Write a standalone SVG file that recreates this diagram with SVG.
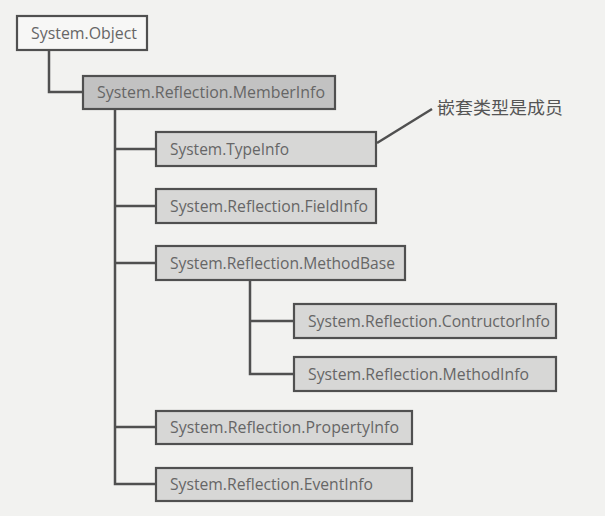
<svg xmlns="http://www.w3.org/2000/svg" width="605" height="516" viewBox="0 0 605 516">
<style>
.box{stroke:#505050;stroke-width:2.2}
.root{fill:#f7f7f6}
.main{fill:#c2c2c2}
.sub{fill:#d7d7d6}
.lbl{font-family:"Open Sans","Noto Sans",sans-serif;font-size:15.5px;fill:#666}
.cjk{font-family:"Noto Sans CJK SC",sans-serif;font-size:17px;fill:#555}
.conn{fill:none;stroke:#505050;stroke-width:2.5}
</style>
<rect width="605" height="516" fill="#f2f2f0"/>
<g id="connectors">
<path class="conn" d="M49,50 V92 H83"/>
<path class="conn" d="M115,109 V484 H156 M115,149 H156 M115,206 H156 M115,263 H156 M115,427 H156"/>
<path class="conn" d="M250,280 V374 H294 M250,321 H294"/>
<path class="conn" d="M377,143 L432,109" stroke-width="2"/>
</g>
<g id="object"><rect class="box root" x="17" y="16" width="130" height="34"/><text class="lbl" x="31" y="38.5" textLength="106" lengthAdjust="spacingAndGlyphs">System.Object</text></g>
<g id="memberinfo"><rect class="box main" x="83" y="76" width="252" height="33"/><text class="lbl" x="97" y="98" textLength="228" lengthAdjust="spacingAndGlyphs">System.Reflection.MemberInfo</text></g>
<g id="typeinfo"><rect class="box sub" x="156" y="132" width="220" height="34"/><text class="lbl" x="170" y="154.5" textLength="119" lengthAdjust="spacingAndGlyphs">System.TypeInfo</text></g>
<g id="fieldinfo"><rect class="box sub" x="156" y="189" width="220" height="34"/><text class="lbl" x="170" y="211.5" textLength="198" lengthAdjust="spacingAndGlyphs">System.Reflection.FieldInfo</text></g>
<g id="methodbase"><rect class="box sub" x="156" y="246" width="249" height="34"/><text class="lbl" x="170" y="268.5" textLength="225" lengthAdjust="spacingAndGlyphs">System.Reflection.MethodBase</text></g>
<g id="constructorinfo"><rect class="box sub" x="294" y="304" width="262" height="34"/><text class="lbl" x="308" y="326.5" textLength="242" lengthAdjust="spacingAndGlyphs">System.Reflection.ContructorInfo</text></g>
<g id="methodinfo"><rect class="box sub" x="294" y="357" width="262" height="34"/><text class="lbl" x="308" y="379.5" textLength="221" lengthAdjust="spacingAndGlyphs">System.Reflection.MethodInfo</text></g>
<g id="propertyinfo"><rect class="box sub" x="156" y="411" width="256" height="33"/><text class="lbl" x="170" y="433" textLength="229" lengthAdjust="spacingAndGlyphs">System.Reflection.PropertyInfo</text></g>
<g id="eventinfo"><rect class="box sub" x="156" y="468" width="256" height="33"/><text class="lbl" x="170" y="490" textLength="203" lengthAdjust="spacingAndGlyphs">System.Reflection.EventInfo</text></g>
<g id="note"><text class="cjk" x="437" y="114" textLength="126" lengthAdjust="spacingAndGlyphs">嵌套类型是成员</text></g>
</svg>
